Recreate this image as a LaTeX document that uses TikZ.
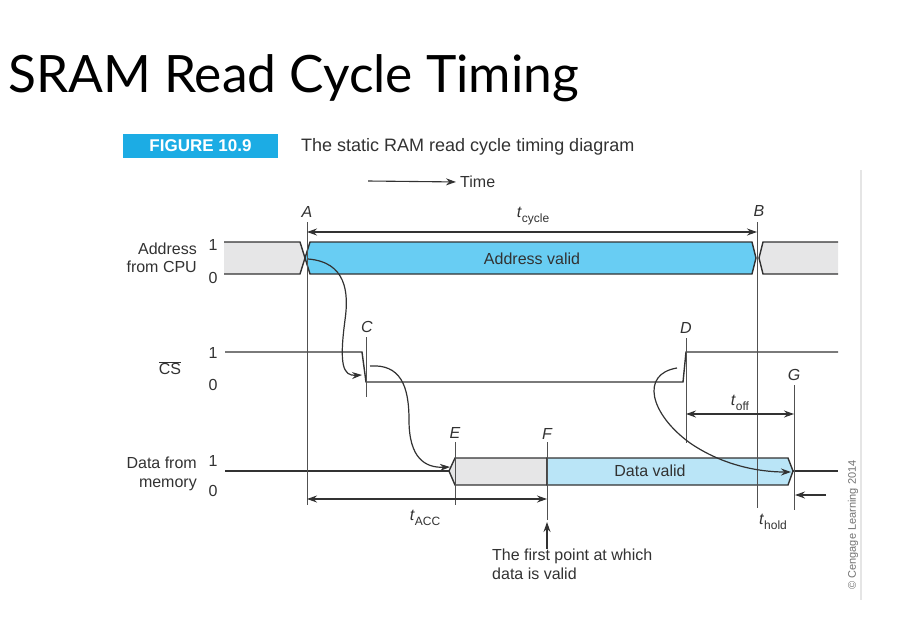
\documentclass[tikz,border=0pt]{standalone}
\usepackage{fontspec}
\setmainfont{Liberation Sans}
\newfontfamily\titlefont{Lato}
\usetikzlibrary{arrows.meta, positioning}
\definecolor{addrblue}{RGB}{104,205,243}
\definecolor{datablue}{RGB}{186,229,247}
\definecolor{busgrey}{RGB}{230,230,231}
\definecolor{figcyan}{RGB}{28,172,228}
\definecolor{wire}{RGB}{50,50,50}
\newcommand{\lblfont}{\fontsize{16}{18.5}\selectfont}
\newcommand{\subfont}{\fontsize{12}{12}\selectfont}
\newcommand{\tsub}[1]{\textit{t}\raisebox{-0.55ex}{\subfont #1}}
\tikzset{
  sig/.style={line width=1.4pt, draw=wire},
  tick/.style={line width=1pt, draw=wire!85},
  dim/.style={{Stealth[length=10pt,width=7pt]}-{Stealth[length=10pt,width=7pt]}, line width=1.1pt, color=wire},
  cause/.style={-{Stealth[length=10pt,width=7pt]}, line width=1.2pt, color=wire},
  lbl/.style={font=\lblfont, text=wire, inner sep=0pt},
  pointlbl/.style={font=\lblfont\itshape, text=wire, inner sep=0pt},
  level/.style={font=\lblfont, text=wire, inner sep=0pt}
}
\begin{document}
\begin{tikzpicture}[x=1pt, y=-1pt]
  \useasboundingbox (0,0) rectangle (917,642);

  % Title and caption
  \node[anchor=base west, inner sep=0pt, font=\titlefont\fontsize{51.5}{56}\selectfont] (title) at (8,92) {SRAM Read Cycle Timing};
  \fill[figcyan] (123,134) rectangle (278,158);
  \node[font=\fontsize{17}{18}\selectfont\bfseries, text=white, inner sep=0pt] (fig) at (200.5,146) {FIGURE 10.9};
  \node[lbl, anchor=west, font=\fontsize{18}{20}\selectfont] (caption) at (301,147) {The static RAM read cycle timing diagram};
  \coordinate (time0) at (368,181);
  \node[lbl, anchor=west] (time) at (460,182) {Time};
  \draw[-{Stealth[length=10pt,width=7pt]}, line width=1.1pt, wire, shorten >=4pt] (time0) -- (time.west);

  % Image edge shadow
  \draw[line width=2pt, black!10] (861,170) -- (861,600);

  % Row labels
  \node[lbl, anchor=east, align=right] (addr) at (197,258) {Address\\from CPU};
  \node[level] (a1) at (213,245) {1};
  \node[level] (a0) at (213,278) {0};
  \node[lbl] (cs) at (170,368) {$\overline{\mbox{CS}}$};
  \node[level] (c1) at (213,353) {1};
  \node[level] (c0) at (213,385) {0};
  \node[lbl, anchor=east, align=right] (data) at (197,474) {Data from\\memory};
  \node[level] (d1) at (213,461) {1};
  \node[level] (d0) at (213,491) {0};

  % Address bus
  \fill[busgrey] (224,242) -- (300,242) -- (305,258) -- (300,274) -- (224,274) -- cycle;
  \draw[sig] (224,242) -- (300,242) -- (305,258) -- (300,274) -- (224,274);
  \draw[sig, fill=addrblue] (305,258) -- (310,242) -- (752,242) -- (756,258) -- (752,274) -- (310,274) -- cycle;
  \fill[busgrey] (838,242) -- (763,242) -- (759,258) -- (763,274) -- (838,274) -- cycle;
  \draw[sig] (838,242) -- (763,242) -- (759,258) -- (763,274) -- (838,274);
  \node[lbl] (addrvalid) at (532,259) {Address valid};

  % Chip select
  \draw[sig] (225,352) -- (362,352) -- (366,382) -- (683,382) -- (686,352) -- (838,352);

  % Data bus
  \draw[sig] (225,471) -- (449,471);
  \draw[sig, fill=busgrey] (449,471) -- (455,458) -- (547,458) -- (547,485) -- (455,485) -- cycle;
  \draw[sig, fill=datablue] (547,458) -- (788,458) -- (793,471) -- (788,485) -- (547,485) -- cycle;
  \draw[sig] (793,471) -- (838,471);
  \node[lbl] (datavalid) at (650,471) {Data valid};

  % Timing points
  \node[pointlbl] (A) at (307,212) {A};
  \node[pointlbl] (B) at (759,211) {B};
  \node[pointlbl] (C) at (367,327) {C};
  \node[pointlbl] (D) at (686,328) {D};
  \node[pointlbl] (E) at (455,433) {E};
  \node[pointlbl] (F) at (547,434) {F};
  \node[pointlbl] (G) at (794,375) {G};
  \draw[tick] (307,222) -- (307,505);
  \draw[tick] (757,222) -- (757,508);
  \draw[tick] (366,337) -- (366,397);
  \draw[tick] (686,338) -- (686,443);
  \draw[tick] (455,442) -- (455,505);
  \draw[tick] (547,442) -- (547,520);
  \draw[tick] (794,385) -- (794,510);

  % Intervals
  \coordinate (cycL) at (307,232);
  \coordinate (cycR) at (757,232);
  \draw[dim] (cycL) -- (cycR);
  \node[lbl] (tcycle) at (533,216) {\tsub{cycle}};
  \coordinate (offL) at (686,414);
  \coordinate (offR) at (794,414);
  \draw[dim] (offL) -- (offR);
  \node[lbl] (toff) at (740,403) {\tsub{off}};
  \coordinate (accL) at (307,499);
  \coordinate (accR) at (547,499);
  \draw[dim] (accL) -- (accR);
  \node[lbl] (tacc) at (425,518) {\tsub{ACC}};
  \coordinate (holdR) at (826,495);
  \coordinate (holdL) at (795,495);
  \draw[cause] (holdR) -- (holdL);
  \node[lbl] (thold) at (773,522) {\tsub{hold}};

  % First valid point
  \node[lbl, anchor=north west, align=left] (first) at (492,549) {The first point at which\\data is valid};
  \coordinate (firstF) at (547,522);
  \draw[cause] (547,549) -- (firstF);

  % Cause and effect
  \coordinate (fromA) at (308,259);
  \coordinate (toC) at (362,375);
  \draw[cause] (fromA) .. controls (346,262) and (349,292) .. (345,320) .. controls (339,365) and (343,376) .. (toC);
  \coordinate (fromC) at (370,366);
  \coordinate (toE) at (450,467);
  \draw[cause] (fromC) .. controls (400,364) and (409,385) .. (409,420) .. controls (409,458) and (425,468) .. (toE);
  \coordinate (fromD) at (677,368);
  \coordinate (toG) at (791,472);
  \draw[cause] (fromD) .. controls (640,374) and (650,414) .. (690,443) .. controls (722,465) and (758,472) .. (toG);

  % Credit
  \node[lbl, rotate=90, text=black!55, font=\fontsize{11}{12}\selectfont] (credit) at (853,525) {\textcopyright{} Cengage Learning 2014};
\end{tikzpicture}
\end{document}
